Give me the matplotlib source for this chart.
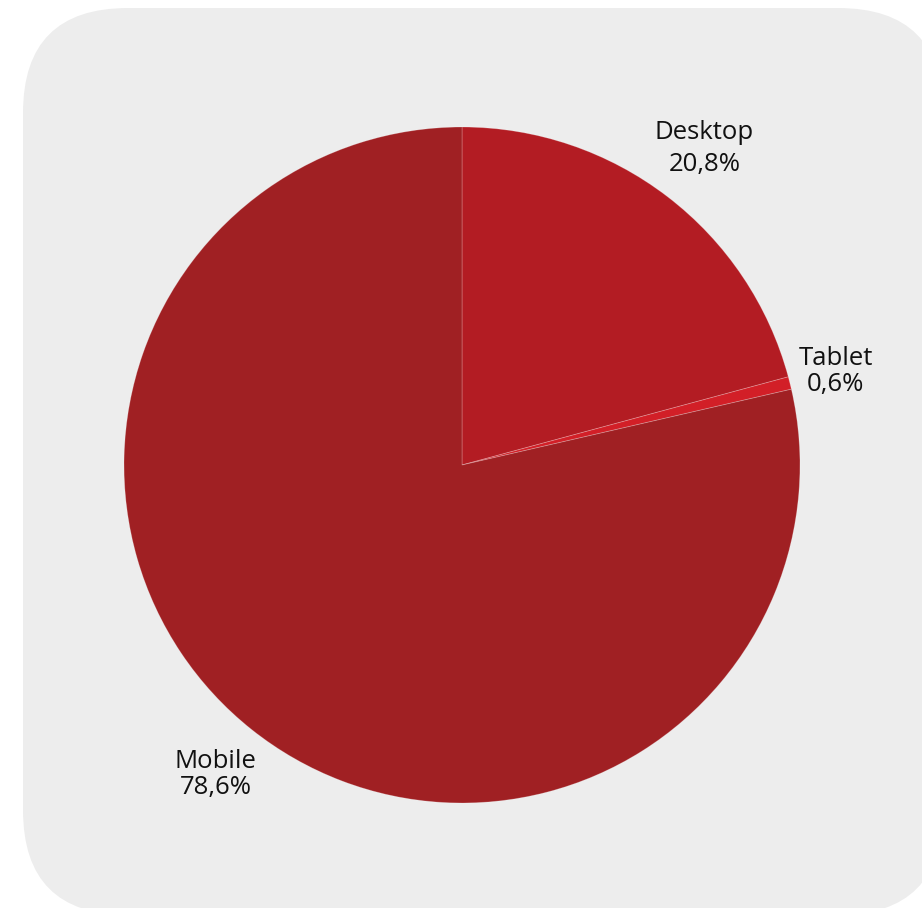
import numpy as np
import matplotlib.pyplot as plt
from matplotlib.patches import FancyBboxPatch

labels = ["Desktop", "Tablet", "Mobile"]
shares = [20.8, 0.6, 78.6]
colors = ["#b31c23", "#d21f27", "#a02023"]
label_dist = [1.18, 1.14, 1.17]

plt.rcParams['font.family'] = ['Open Sans', 'DejaVu Sans']

fig = plt.figure(figsize=(9.22, 9.08), dpi=100)
fig.patch.set_facecolor("white")

# rounded grey card behind the chart (display pixels)
card = FancyBboxPatch((23, -7), 920, 907, boxstyle="round,pad=0,rounding_size=105",
                      transform=None, facecolor="#ededed", edgecolor="none", zorder=-5)
fig.patches.append(card)

W, H = 922, 908
cx, cy, r = 462, 465, 338
ax = fig.add_axes([(cx - r) / W, (H - cy - r) / H, 2 * r / W, 2 * r / H])
ax.set_facecolor("none")
ax.set_zorder(2)

wedges, _ = ax.pie(shares, colors=colors, startangle=90, counterclock=False,
                   radius=1.0, wedgeprops=dict(edgecolor=(1, 1, 1, 0.25), linewidth=0.6))
ax.set_xlim(-1, 1)
ax.set_ylim(-1, 1)
ax.axis("off")

for w, name, val, d in zip(wedges, labels, shares, label_dist):
    ang = np.deg2rad((w.theta1 + w.theta2) / 2)
    x, y = d * np.cos(ang), d * np.sin(ang)
    txt = f"{name}\n{val:.1f}%".replace(".", ",")
    ls = 1.4 if name == "Desktop" else 1.05
    ax.text(x, y, txt, ha="center", va="center", fontsize=18.5, color="#111111",
            linespacing=ls, clip_on=False)

fig.savefig("out.png", dpi=100)
